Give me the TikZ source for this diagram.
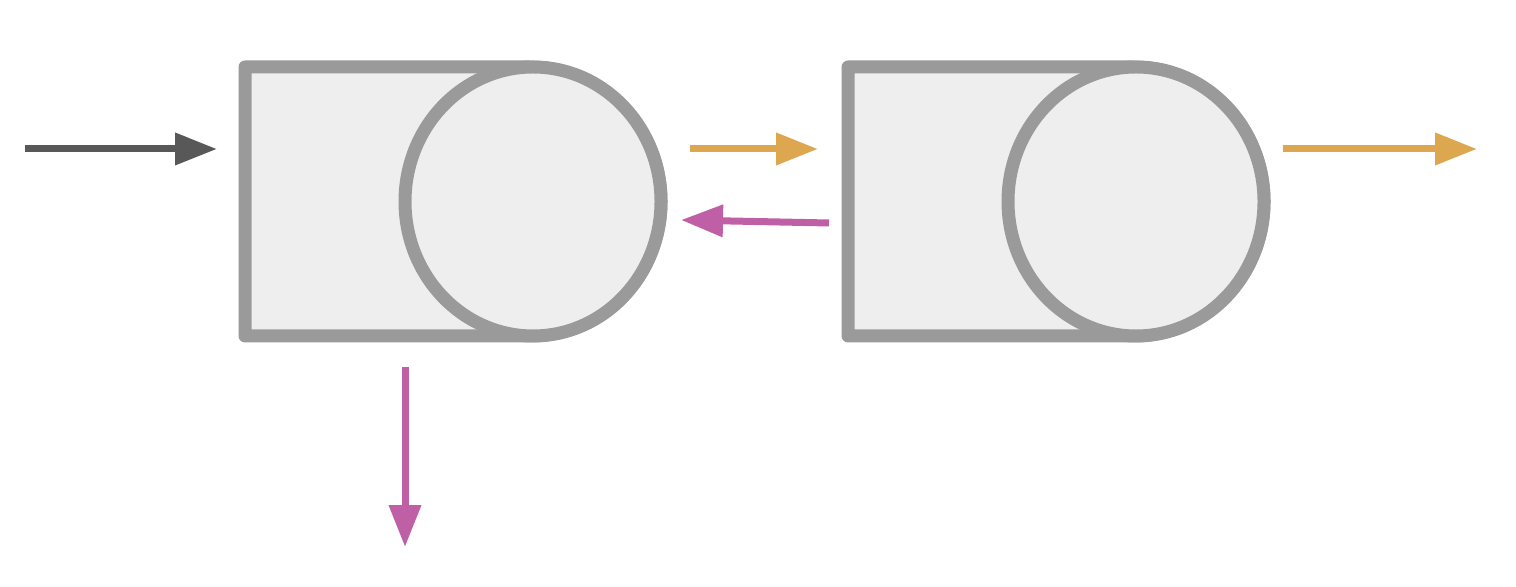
\documentclass[tikz,border=0pt]{standalone}
\usepackage{xcolor}
\usetikzlibrary{arrows.meta,calc}
\definecolor{tankgray}{HTML}{9A9A9A}
\definecolor{tankfill}{HTML}{EEEEEE}
\definecolor{feedgray}{HTML}{585858}
\definecolor{liqorange}{HTML}{DCA74F}
\definecolor{vapmagenta}{HTML}{BF5FA5}

\begin{document}
\begin{tikzpicture}[
        tank/.style={draw=tankgray,fill=tankfill,line width=0.26cm,line join=round},
        flow/.style={line width=0.14cm,-{Triangle[length=0.84cm,width=0.62cm]}}
    ]
        \useasboundingbox (0,0) rectangle (30.32,11.72);
        % the two vessels
        \foreach \dx in {0,12.06} {
            \begin{scope}[xshift=\dx cm]
                \draw[tank] (10.60,10.38) -- (4.90,10.38) -- (4.90,5.00) -- (10.60,5.00)
                    arc[start angle=-90,end angle=90,x radius=2.62cm,y radius=2.69cm] -- cycle;
                \draw[tank] (10.66,7.69) ellipse[x radius=2.56cm,y radius=2.69cm];
            \end{scope}
        }
        \coordinate (In) at (0.50,8.74);
        \coordinate (InEnd) at (4.34,8.74);
        \coordinate (L1) at (13.80,8.74);
        \coordinate (L1End) at (16.36,8.74);
        \coordinate (V2) at (16.58,7.26);
        \coordinate (V2End) at (13.62,7.32);
        \coordinate (L2) at (25.66,8.74);
        \coordinate (L2End) at (29.54,8.74);
        \coordinate (V1) at (8.10,4.38);
        \coordinate (V1End) at (8.10,0.78);
        \begin{scope}[flow]
            \draw[feedgray] (In) -- (InEnd);
            \draw[liqorange] (L1) -- (L1End);
            \draw[vapmagenta] (V2) -- (V2End);
            \draw[liqorange] (L2) -- (L2End);
            \draw[vapmagenta] (V1) -- (V1End);
        \end{scope}
    \end{tikzpicture}
\end{document}
